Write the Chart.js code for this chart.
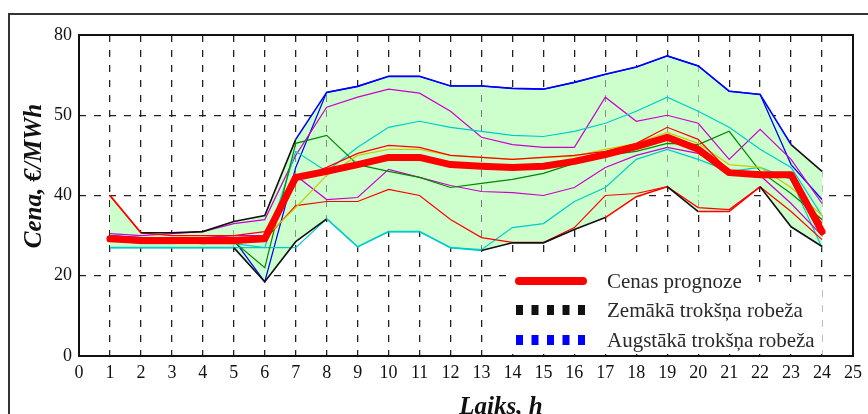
<!DOCTYPE html>
<html><head><meta charset="utf-8">
<script src="https://cdn.jsdelivr.net/npm/chart.js@4.4.1/dist/chart.umd.min.js"></script>
<style>
html,body{margin:0;padding:0;background:#fff;overflow:hidden}
#wrap{position:relative;width:868px;height:414px;overflow:hidden}
#frame{position:absolute;left:8px;top:13px;width:900px;height:500px;border-left:2px solid #333;border-top:2px solid #333}
canvas{position:absolute;left:0;top:0}
</style></head><body>
<div id="wrap"><div id="frame"></div><canvas id="c" width="868" height="414"></canvas></div>
<script>
// ---- data ----
const hours = [1,2,3,4,5,6,7,8,9,10,11,12,13,14,15,16,17,18,19,20,21,22,23,24];
const forecast   = [29.2,28.8,28.8,28.8,28.8,29.2,44.5,46,47.7,49.5,49.5,47.7,47.3,47,47.3,48.5,50.2,52.2,54.5,51.5,45.7,45.2,45.2,31];
const lowerBound = [27,27,27,27,27,18.5,28.5,34.2,27.2,31,31,27,26.3,28.2,28.2,31.5,34.5,39.7,42.2,36,36,42.2,32.2,27.3];
const upperBound = [40,30.7,30.7,31,33.5,35,54,65.7,67.2,69.7,69.7,67.3,67.3,66.7,66.5,68.2,70.2,72,74.8,72.3,66,65.2,52.7,46];
const magentaA = [30.5,30,30.5,31,33,34,50,62,64.5,66.5,65.5,61,54.5,52.7,52,52,64.5,58.5,60,58,49,56.5,49,38];
const cyanA    = [29,28,28,28.5,28,27,51,46,52,57,58.5,57,56,55,54.7,56,58,61,64.5,61,57,51.5,47,35];
const yellowL  = [29,28.5,28,28,28.5,29.5,37,45,50,51.5,51.5,50,49.5,49,49.5,49.8,51.5,53,55.7,53,47.7,47,42,35];
const redThin  = [40,30.7,30,30,30,31,44,47,50.5,52.5,52,50,49.5,49,49.5,50,51,53,57,54,46,45.5,45,33];
const greenL   = [30,29,28.5,28,28.5,22,53,55,47.7,46,44.5,42,43,44,45.5,48,50,51,53,52.7,56,46,40.5,34];
const magentaC = [30,29.5,29,29.5,30,30,45,39,39.5,46.5,44.5,42.5,41,40.7,40,42,47,50,52,50.5,46,45,38,30];
const redLow   = [29,28.5,28.5,28,28,29,37.5,38.5,38.5,41.5,40,34,29.5,28.3,28.3,32,40,40.5,42.2,37,36.5,42.2,36,29];
const cyanLow  = [27,27,27,27,27,27,27,34.2,27.2,31,31,27,26.5,32,33,38.5,42,49,51.5,49,46,47,44,27];
const blueL    = [30,29.5,29.5,29.5,29,18.5,47,65.7,67.2,69.7,69.7,67.3,67.3,66.7,66.5,68.2,70.2,72,74.8,72.3,66,65.2,47.7,39];
const xTickValues = [0,1,2,3,4,5,6,7,8,9,10,11,12,13,14,15,16,17,18,19,20,21,22,23,24,25];
const yTickValues = [0,20,40,60,80];
const yTickLabels = ['0','20','40','50','80'];
const legendLabels = ['Cenas prognoze','Zemākā trokšņa robeža','Augstākā trokšņa robeža'];
const yTitle = 'Cena, €/MWh';
const xTitle = 'Laiks, h';

const pts = arr => arr.map((v,i)=>({x:hours[i], y:v}));
const thin = (data,color) => ({data:pts(data), borderColor:color, borderWidth:1.2, pointRadius:0, fill:false, tension:0});

const upperSeg = i => i<1 ? '#ff0000' : (i<6 ? '#111' : (i>=22 ? '#111' : '#0000ff'));
const lowerSegColors = ['#00cccc','#00cccc','#00cccc','#00cccc','#111','#111','#111','#00cccc','#00cccc','#00cccc','#00cccc','#00cccc','#111','#111','#111','#111','#ff0000','#ff0000','#111','#ff0000','#ff0000','#111','#111'];

const serif = '"Liberation Serif","Times New Roman",serif';

const decor = {
  id:'decor',
  afterDraw(chart){
    const ctx = chart.ctx, a = chart.chartArea;
    ctx.save();
    // legend background
    ctx.fillStyle = '#fff';
    ctx.fillRect(508,258,249,96);
    ctx.fillRect(757,288,65,66);
    // legend samples
    ctx.strokeStyle = '#ff0000'; ctx.lineWidth = 8; ctx.lineCap = 'round';
    ctx.beginPath(); ctx.moveTo(519,281); ctx.lineTo(583,281); ctx.stroke();
    for (let k=0;k<5;k++){
      ctx.fillStyle = '#111'; ctx.fillRect(516+k*15.5,305,7,10);
      ctx.fillStyle = '#0000ff'; ctx.fillRect(516+k*15.5,335,7,10);
    }
    ctx.fillStyle = '#2a2a2a';
    ctx.font = '21px ' + serif;
    ctx.textAlign = 'left'; ctx.textBaseline = 'middle';
    ctx.fillText(legendLabels[0], 607, 282);
    ctx.fillText(legendLabels[1], 607, 311);
    ctx.fillText(legendLabels[2], 607, 341);
    // plot frame
    ctx.strokeStyle = '#111'; ctx.lineWidth = 2; ctx.lineCap = 'butt';
    ctx.strokeRect(a.left, a.top, a.right-a.left, a.bottom-a.top);
    // axis titles
    ctx.fillStyle = '#111';
    ctx.font = 'italic bold 25px ' + serif;
    ctx.textAlign = 'center'; ctx.textBaseline = 'alphabetic';
    ctx.fillText(xTitle, 501, 414);
    ctx.translate(41,176); ctx.rotate(-Math.PI/2);
    ctx.fillText(yTitle, 0, 0);
    ctx.restore();
  }
};

new Chart(document.getElementById('c'), {
  type:'line',
  data:{ datasets:[
    {label:legendLabels[0], data:pts(forecast), borderColor:'#ff0000', borderWidth:7, pointRadius:0, fill:false, borderJoinStyle:'round', borderCapStyle:'round'},
    {label:legendLabels[1], data:pts(lowerBound), borderColor:'#111', borderWidth:1.6, pointRadius:0, fill:false,
      segment:{borderColor: c => lowerSegColors[c.p0DataIndex]}},
    {label:legendLabels[2], data:pts(upperBound), borderColor:'#0000ff', borderWidth:1.6, pointRadius:0,
      fill:{target:1}, backgroundColor:'#ccffcc',
      segment:{borderColor: c => upperSeg(c.p0DataIndex)}},
    thin(redThin,'#ff0000'),
    thin(yellowL,'#cccc00'),
    thin(greenL,'#008800'),
    thin(magentaC,'#cc00cc'),
    thin(redLow,'#ff0000'),
    thin(cyanLow,'#00cccc'),
    thin(cyanA,'#00cccc'),
    thin(magentaA,'#cc00cc'),
    thin(blueL,'#0000ff')
  ]},
  options:{
    responsive:false, animation:false, devicePixelRatio:1,
    layout:{padding:{top:35,right:7,left:0,bottom:0}},
    plugins:{legend:{display:false}, tooltip:{enabled:false}, filler:{drawTime:'beforeDatasetsDraw'}},
    scales:{
      x:{type:'linear', min:0, max:25,
        afterFit: s => { s.height = 58; },
        afterBuildTicks: s => { s.ticks = xTickValues.map(v=>({value:v})); },
        ticks:{autoSkip:false, maxRotation:0, padding:6, color:'#111', font:{family:serif, size:18}, callback:v=>String(v)},
        grid:{color: c => (c.tick && (c.tick.value===0 || c.tick.value===25)) ? 'rgba(0,0,0,0)' : '#222', lineWidth:1.3, drawTicks:false},
        border:{display:false, dash:[7,8]}
      },
      y:{type:'linear', min:0, max:80,
        afterFit: s => { s.width = 79; },
        afterBuildTicks: s => { s.ticks = yTickValues.map(v=>({value:v})); },
        ticks:{padding:7, color:'#111', font:{family:serif, size:18}, callback:(v)=> yTickLabels[yTickValues.indexOf(v)]},
        grid:{color: c => (c.tick && (c.tick.value===0 || c.tick.value===80)) ? 'rgba(0,0,0,0)' : '#222', lineWidth:1.3, drawTicks:false},
        border:{display:false, dash:[7,8]}
      }
    }
  },
  plugins:[decor]
});
</script>
</body></html>
